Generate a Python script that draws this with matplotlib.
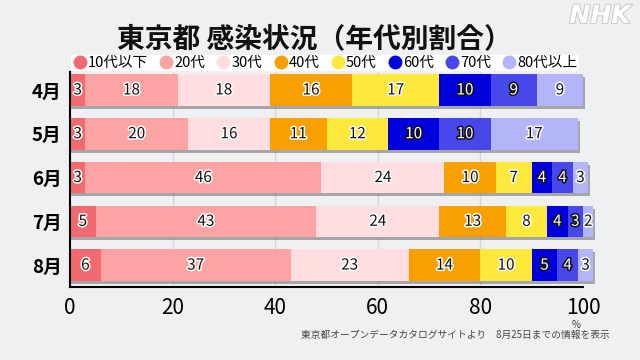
import numpy as np
import matplotlib
matplotlib.use("Agg")
import matplotlib.pyplot as plt
import matplotlib.patheffects as pe
from matplotlib.lines import Line2D

plt.rcParams["font.family"] = ["Noto Sans CJK JP", "DejaVu Sans"]

# ----------------------------------------------------------------------
# data (percent of cases by age group, per month)
# ----------------------------------------------------------------------
months = ["4月", "5月", "6月", "7月", "8月"]
age_groups = ["10代以下", "20代", "30代", "40代", "50代", "60代", "70代", "80代以上"]
shares = {
    "10代以下": [3, 3, 3, 5, 6],
    "20代":     [18, 20, 46, 43, 37],
    "30代":     [18, 16, 24, 24, 23],
    "40代":     [16, 11, 10, 13, 14],
    "50代":     [17, 12, 7, 8, 10],
    "60代":     [10, 10, 4, 4, 5],
    "70代":     [9, 10, 4, 3, 4],
    "80代以上": [9, 17, 3, 2, 3],
}
colors = ["#f26a70", "#fca3a3", "#ffdde0", "#f7a000",
          "#ffe83c", "#0000dc", "#4848ea", "#b4b4f8"]
dark_groups = {"60代", "70代"}
x_ticks = [0, 20, 40, 60, 80, 100]

bg = "#eef0f2"
fig = plt.figure(figsize=(6.4, 3.6), dpi=100, facecolor=bg)
ax = fig.add_axes([70 / 640, 1 - 287 / 360, 513 / 640, 215 / 360], facecolor=bg)

y = np.arange(len(months))
h = 0.72
totals = np.sum([shares[g] for g in age_groups], axis=0)

# drop shadow under each bar
ax.barh(y + 0.07, totals + 0.4, height=h, left=0, color="#6a6a6a",
        alpha=0.55, zorder=1, clip_on=False)

left = np.zeros(len(months))
for g, c in zip(age_groups, colors):
    vals = np.array(shares[g], dtype=float)
    ax.barh(y, vals, height=h, left=left, color=c, zorder=2, clip_on=False)
    for yi, (l, v) in enumerate(zip(left, vals)):
        if g in dark_groups:
            txt_c, stroke_c = "white", "#111111"
        else:
            txt_c, stroke_c = "#111111", "white"
        ax.text(l + v / 2, yi, f"{int(v)}", ha="center", va="center",
                fontsize=11, color=txt_c, zorder=3, clip_on=False,
                path_effects=[pe.withStroke(linewidth=2.2, foreground=stroke_c)])
    left += vals

ax.set_xlim(0, 100)
ax.set_ylim(4.5, -0.41)
ax.set_xticks(x_ticks)
ax.set_xticklabels([str(t) for t in x_ticks], fontsize=15)
ax.set_yticks(y)
ax.set_yticklabels(months, fontsize=13.5, fontweight="bold")
ax.tick_params(length=0)
ax.tick_params(axis="y", pad=6)
ax.tick_params(axis="x", pad=7)
for xv in x_ticks[1:-1]:
    ax.axvline(xv, color="#d4d6d9", lw=1, zorder=0)
for s in ["top", "right"]:
    ax.spines[s].set_visible(False)
ax.spines["left"].set_linewidth(1.5)
ax.spines["bottom"].set_linewidth(1.5)
ax.spines["left"].set_zorder(4)

# title + legend
fig.text(314 / 640, 1 - 39 / 360, "東京都 感染状況（年代別割合）", ha="center",
         va="center", fontsize=20, fontweight="bold", color="#111111")
handles = [Line2D([], [], marker="o", ls="none", markersize=10,
                  markerfacecolor=c, markeredgecolor="none") for c in colors]
leg = fig.legend(handles, age_groups, loc="center", ncol=8,
                 bbox_to_anchor=(325 / 640, 1 - 63 / 360), fontsize=10.5,
                 frameon=True, fancybox=False, edgecolor="none",
                 handletextpad=0.05, columnspacing=0.75, handlelength=1.0,
                 borderpad=0.1, borderaxespad=0)
leg.get_frame().set_facecolor("white")
leg.get_frame().set_alpha(1)

# footnotes
fig.text(576 / 640, 1 - 325 / 360, "%", ha="center", va="center",
         fontsize=7, color="#333333")
fig.text(610 / 640, 1 - 335 / 360,
         "東京都オープンデータカタログサイトより　8月25日までの情報を表示",
         ha="right", va="center", fontsize=7, color="#444444")

# broadcaster mark
fig.text(600 / 640, 1 - 16 / 360, "NHK", ha="center", va="center",
         fontsize=18, fontweight="bold", style="italic", color="white",
         family="DejaVu Sans",
         path_effects=[pe.withStroke(linewidth=1.5, foreground="#c8cacd")])

fig.savefig("out.png", dpi=100, facecolor=bg)
